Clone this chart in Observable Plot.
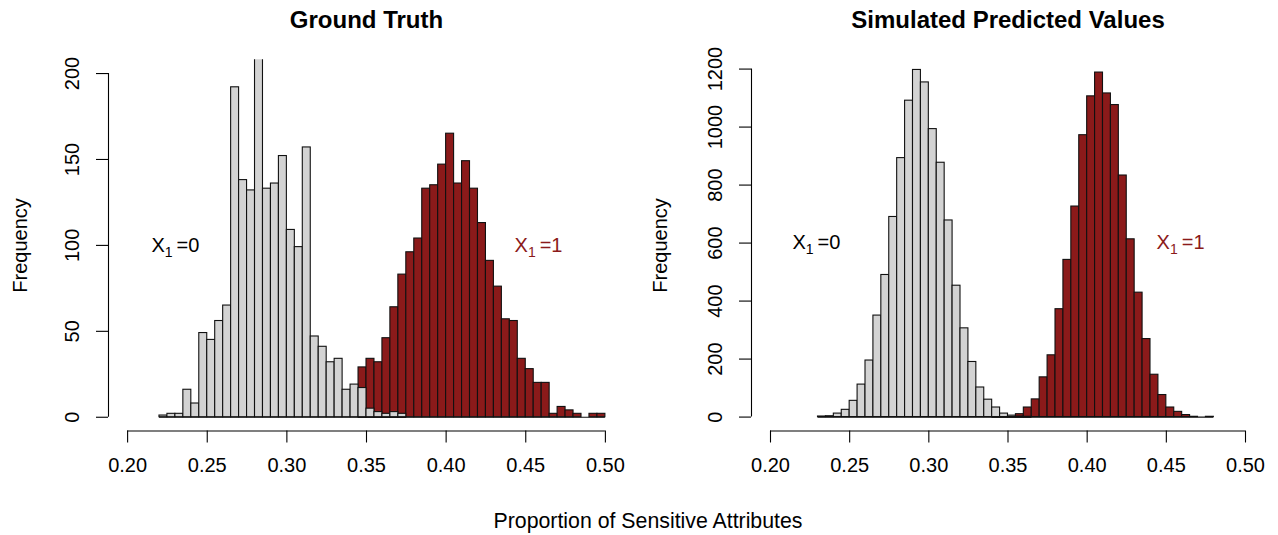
<!DOCTYPE html>
<html><head><meta charset="utf-8">
<script src="https://cdn.jsdelivr.net/npm/d3@7"></script>
<script src="https://cdn.jsdelivr.net/npm/@observablehq/plot@0.6"></script>
<style>
body{margin:0;background:#fff;}
#wrap{position:relative;width:1278px;height:535px;font-family:"Liberation Sans",Arial,Helvetica,sans-serif;}
#panels{display:flex;}
#xlab{position:absolute;left:0;width:1296px;top:508px;text-align:center;font-size:21.3px;line-height:26px;color:#000;}
</style></head><body>
<div id="wrap"><div id="panels"></div><div id="xlab">Proportion of Sensitive Attributes</div></div>
<script>
// ---- data ----
const binWidth = 0.005;
const xTicks = [0.20, 0.25, 0.30, 0.35, 0.40, 0.45, 0.50];
const xDomain = [0.188, 0.512];

// Ground truth (left panel)
const gtTitle = "Ground Truth";
const gtGrayStart = 0.22;
const gtGrayCounts = [1,2,2,16,8,49,45,56,65,192,138,132,215,133,136,152,109,99,157,47,41,32,34,16,19,17,5,3,2,3,2];
const gtRedStart = 0.345;
const gtRedCounts = [29,34,32,46,64,83,96,104,133,135,147,165,136,149,133,113,91,76,57,56,34,28,20,20,2,6,4,2,0,2,2];
const gtYTicks = [0, 50, 100, 150, 200];
const gtYDomain = [-8, 208];
const gtLabelX = [0.23, 0.458];
const gtLabelY = [100, 100];

// Simulated predicted values (right panel)
const simTitle = "Simulated Predicted Values";
const simGrayStart = 0.23;
const simGrayCounts = [2,3,12,25,56,112,195,350,490,690,893,1091,1197,1154,993,877,678,453,306,190,102,60,33,12,5,2,1];
const simRedStart = 0.34;
const simRedCounts = [1,2,3,10,33,61,137,213,372,542,726,972,1106,1188,1116,1076,833,613,429,269,146,76,33,18,7,1,0,1];
const simYTicks = [0, 200, 400, 600, 800, 1000, 1200];
const simYDomain = [-48, 1232];
const simLabelX = [0.229, 0.459];
const simLabelY = [600, 600];

const labelTexts = ["X|1|=0", "X|1|=1"];

// ---- styling ----
const FONT = '"Liberation Sans", Arial, Helvetica, sans-serif';
const GRAY = "#D3D3D3";
const RED = "#8B1A1A";
const EDGE = "#111";
const FS = 20;

function bins(start, counts) {
  return counts.map((c, i) => ({x1: start + i * binWidth, x2: start + (i + 1) * binWidth, y: c}));
}

function panel(o) {
  const gray = bins(o.grayStart, o.grayCounts);
  const red = bins(o.redStart, o.redCounts);
  const last = a => a[a.length - 1];
  const svg = Plot.plot({
    width: 639, height: 535,
    marginTop: 59.3, marginBottom: 104.5, marginLeft: o.ml, marginRight: o.mr,
    style: {fontFamily: FONT, fontSize: FS + "px", color: "#000", background: "transparent", overflow: "visible"},
    x: {domain: xDomain},
    y: {domain: o.yDomain},
    marks: [
      Plot.rect(red, {x1: "x1", x2: "x2", y1: 0, y2: "y", fill: RED, stroke: EDGE, strokeWidth: 1.1, clip: true}),
      Plot.ruleY([0], {x1: red[0].x1, x2: last(red).x2, stroke: EDGE, strokeWidth: 1.1}),
      Plot.rect(gray, {x1: "x1", x2: "x2", y1: 0, y2: "y", fill: GRAY, stroke: EDGE, strokeWidth: 1.1, clip: true}),
      Plot.ruleY([0], {x1: gray[0].x1, x2: last(gray).x2, stroke: EDGE, strokeWidth: 1.1}),
      // x axis
      Plot.ruleY([o.yDomain[0]], {x1: xTicks[0], x2: last(xTicks), stroke: "#000", strokeWidth: 1.1}),
      Plot.axisX({ticks: xTicks, tickSize: 12, tickPadding: 15, tickFormat: d3.format(".2f"), label: null, fontSize: FS, strokeWidth: 1.1}),
      // y axis
      Plot.ruleX([xDomain[0]], {y1: o.yTicks[0], y2: last(o.yTicks), stroke: "#000", strokeWidth: 1.1}),
      Plot.axisY({ticks: o.yTicks, tickSize: 12, tickFormat: () => "", label: null, strokeWidth: 1.1}),
      Plot.text(o.yTicks, {y: d => d, text: d => String(d), frameAnchor: "left", dx: -36, rotate: -90,
        textAnchor: "middle", lineAnchor: "middle", fontSize: FS, fill: "#000"}),
      Plot.text(["Frequency"], {frameAnchor: "left", dx: o.freqDx, rotate: -90,
        textAnchor: "middle", lineAnchor: "middle", fontSize: FS, fill: "#000"}),
      Plot.text([o.title], {frameAnchor: "top", dy: -39.5, textAnchor: "middle", lineAnchor: "middle",
        fontWeight: "bold", fontSize: 24, fill: "#000"}),
      Plot.text([0], {x: o.labelX[0], y: o.labelY[0], text: () => labelTexts[0], fill: "#000",
        fontSize: FS, textAnchor: "middle", lineAnchor: "middle"}),
      Plot.text([1], {x: o.labelX[1], y: o.labelY[1], text: () => labelTexts[1], fill: RED,
        fontSize: FS, textAnchor: "middle", lineAnchor: "middle"})
    ]
  });
  const ns = "http://www.w3.org/2000/svg";
  svg.querySelectorAll("text").forEach(t => {
    if (!t.textContent.includes("|")) return;
    const [a, b, c] = t.textContent.split("|");
    t.textContent = "";
    const s1 = document.createElementNS(ns, "tspan"); s1.textContent = a;
    const s2 = document.createElementNS(ns, "tspan"); s2.textContent = b;
    s2.setAttribute("font-size", "14"); s2.setAttribute("dy", "5");
    const s3 = document.createElementNS(ns, "tspan"); s3.textContent = "\u2009" + c;
    s3.setAttribute("dy", "-5");
    t.append(s1, s2, s3);
  });
  return svg;
}

const host = document.getElementById("panels");
host.append(panel({
  title: gtTitle, grayStart: gtGrayStart, grayCounts: gtGrayCounts, redStart: gtRedStart, redCounts: gtRedCounts,
  yTicks: gtYTicks, yDomain: gtYDomain, labelX: gtLabelX, labelY: gtLabelY, ml: 108, mr: 15, freqDx: -88
}));
host.append(panel({
  title: simTitle, grayStart: simGrayStart, grayCounts: simGrayCounts, redStart: simRedStart, redCounts: simRedCounts,
  yTicks: simYTicks, yDomain: simYDomain, labelX: simLabelX, labelY: simLabelY, ml: 112, mr: 14, freqDx: -91
}));
</script>
</body></html>
